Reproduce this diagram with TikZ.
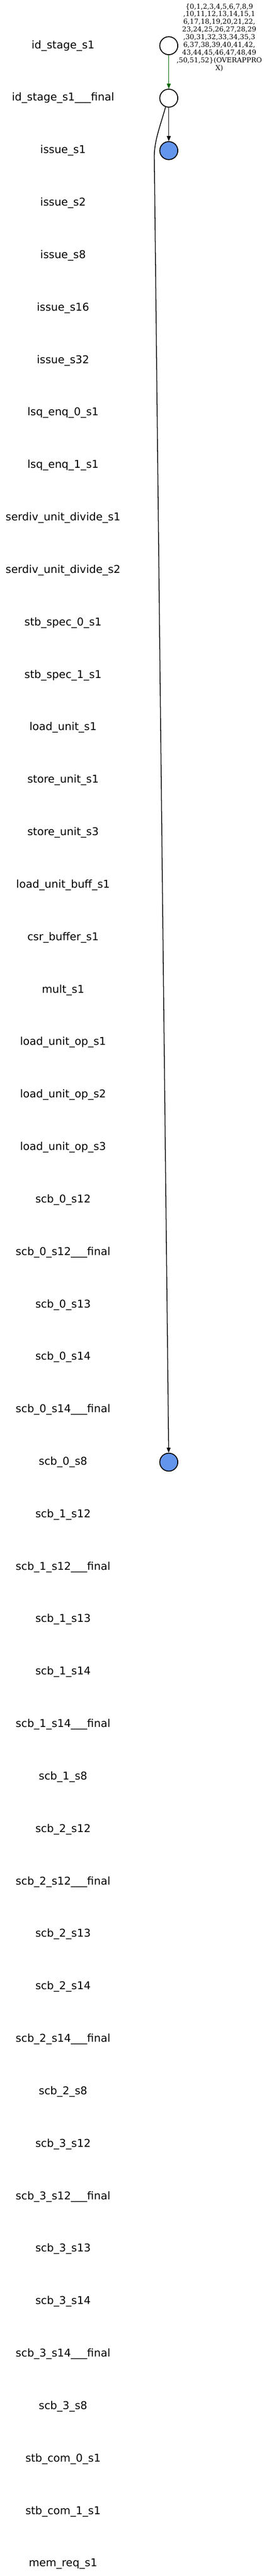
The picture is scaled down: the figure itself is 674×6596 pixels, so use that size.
\documentclass[tikz,border=0pt]{standalone}
\usepackage{fontspec}
\usepackage{tikz}
\usepackage{xcolor}
\setmainfont{DejaVu Sans}
\newfontfamily\edgefont{DejaVu Serif}
\usetikzlibrary{automata, positioning, arrows.meta}
\definecolor{nodeblue}{RGB}{100,149,237}
\definecolor{edgegreen}{RGB}{0,100,0}

\begin{document}
\begin{tikzpicture}[x=1pt, y=-1pt, node distance = 134.33pt, on grid, auto,
        >={Triangle[length=13pt,width=10pt]},
        every state/.style={minimum size=46pt, line width=2.4pt, inner sep=0pt},
        rank/.style={font=\fontsize{27.5}{33}\selectfont},
        every edge/.style={draw, line width=2pt}]
        \useasboundingbox (0,0) rectangle (674,6596);

        \node[rank] (r1) at (161,117) {id\_stage\_s1};
        \node[rank] (r2) [below = of r1] {id\_stage\_s1\_\_\_final};
        \node[rank] (r3) [below = of r2] {issue\_s1};
        \node[rank] (r4) [below = of r3] {issue\_s2};
        \node[rank] (r5) [below = of r4] {issue\_s8};
        \node[rank] (r6) [below = of r5] {issue\_s16};
        \node[rank] (r7) [below = of r6] {issue\_s32};
        \node[rank] (r8) [below = of r7] {lsq\_enq\_0\_s1};
        \node[rank] (r9) [below = of r8] {lsq\_enq\_1\_s1};
        \node[rank] (r10) [below = of r9] {serdiv\_unit\_divide\_s1};
        \node[rank] (r11) [below = of r10] {serdiv\_unit\_divide\_s2};
        \node[rank] (r12) [below = of r11] {stb\_spec\_0\_s1};
        \node[rank] (r13) [below = of r12] {stb\_spec\_1\_s1};
        \node[rank] (r14) [below = of r13] {load\_unit\_s1};
        \node[rank] (r15) [below = of r14] {store\_unit\_s1};
        \node[rank] (r16) [below = of r15] {store\_unit\_s3};
        \node[rank] (r17) [below = of r16] {load\_unit\_buff\_s1};
        \node[rank] (r18) [below = of r17] {csr\_buffer\_s1};
        \node[rank] (r19) [below = of r18] {mult\_s1};
        \node[rank] (r20) [below = of r19] {load\_unit\_op\_s1};
        \node[rank] (r21) [below = of r20] {load\_unit\_op\_s2};
        \node[rank] (r22) [below = of r21] {load\_unit\_op\_s3};
        \node[rank] (r23) [below = of r22] {scb\_0\_s12};
        \node[rank] (r24) [below = of r23] {scb\_0\_s12\_\_\_final};
        \node[rank] (r25) [below = of r24] {scb\_0\_s13};
        \node[rank] (r26) [below = of r25] {scb\_0\_s14};
        \node[rank] (r27) [below = of r26] {scb\_0\_s14\_\_\_final};
        \node[rank] (r28) [below = of r27] {scb\_0\_s8};
        \node[rank] (r29) [below = of r28] {scb\_1\_s12};
        \node[rank] (r30) [below = of r29] {scb\_1\_s12\_\_\_final};
        \node[rank] (r31) [below = of r30] {scb\_1\_s13};
        \node[rank] (r32) [below = of r31] {scb\_1\_s14};
        \node[rank] (r33) [below = of r32] {scb\_1\_s14\_\_\_final};
        \node[rank] (r34) [below = of r33] {scb\_1\_s8};
        \node[rank] (r35) [below = of r34] {scb\_2\_s12};
        \node[rank] (r36) [below = of r35] {scb\_2\_s12\_\_\_final};
        \node[rank] (r37) [below = of r36] {scb\_2\_s13};
        \node[rank] (r38) [below = of r37] {scb\_2\_s14};
        \node[rank] (r39) [below = of r38] {scb\_2\_s14\_\_\_final};
        \node[rank] (r40) [below = of r39] {scb\_2\_s8};
        \node[rank] (r41) [below = of r40] {scb\_3\_s12};
        \node[rank] (r42) [below = of r41] {scb\_3\_s12\_\_\_final};
        \node[rank] (r43) [below = of r42] {scb\_3\_s13};
        \node[rank] (r44) [below = of r43] {scb\_3\_s14};
        \node[rank] (r45) [below = of r44] {scb\_3\_s14\_\_\_final};
        \node[rank] (r46) [below = of r45] {scb\_3\_s8};
        \node[rank] (r47) [below = of r46] {stb\_com\_0\_s1};
        \node[rank] (r48) [below = of r47] {stb\_com\_1\_s1};
        \node[rank] (r49) [below = of r48] {mem\_req\_s1};

        \node[state] (1) [right = 270pt of r1] {};
        \node[state] (2) [right = 270pt of r2] {};
        \node[state,fill=nodeblue] (3) [right = 270pt of r3] {};
        \node[state,fill=nodeblue] (4) [right = 270pt of r28] {};

        \draw[->,color=edgegreen] (1) edge[color=edgegreen] node[midway, anchor=south west, xshift=19pt, inner sep=0pt, align=center, color=black, font=\edgefont\fontsize{17.5}{19.75}\selectfont] {\{0,1,2,3,4,5,6,7,8,9\\,10,11,12,13,14,15,1\\6,17,18,19,20,21,22,\\23,24,25,26,27,28,29\\,30,31,32,33,34,35,3\\6,37,38,39,40,41,42,\\43,44,45,46,47,48,49\\,50,51,52\}(OVERAPPRO\\X)} (2);
        \draw[->] (2) edge (3);

        \coordinate (k) at (394,400);
        \draw[->, line width=2pt] (2.250) .. controls (410,320) and (394,360) .. (k) -- (4);
    \end{tikzpicture}
\end{document}
